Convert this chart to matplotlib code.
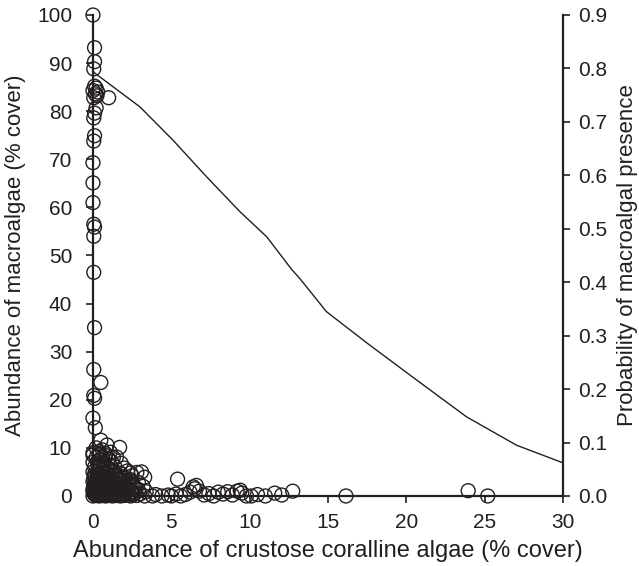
"""Macroalgae vs crustose coralline algae cover, with fitted presence probability."""

import matplotlib

matplotlib.use("Agg")
import matplotlib.pyplot as plt
from matplotlib.ticker import FormatStrFormatter

INK = "#231f20"

# column of high-macroalgae quadrats near zero CCA
high_cca = [0.0, 0.1, 0.1, 0.05, 0.1, 0.2, 0.0, 0.3, 0.15, 0.25, 0.05, 1.0,
            0.2, 0.1, 0.05, 0.1, 0.05, 0.0, 0.0, 0.0, 0.05, 0.1, 0.05, 0.05,
            0.1, 0.05, 0.5, 0.05, 0.1, 0.0, 0.15, 0.5, 0.9, 1.7, 1.3]
high_macro = [100.0, 93.2, 90.3, 88.8, 85.2, 84.8, 84.3, 84.0, 83.6, 83.2,
              82.8, 82.8, 80.7, 79.6, 78.6, 74.9, 73.8, 69.3, 65.1, 61.0,
              56.5, 55.9, 54.0, 46.5, 35.0, 26.3, 23.6, 20.9, 20.3, 16.2,
              14.2, 11.6, 10.6, 10.1, 8.0]

# dense cluster at low cover of both
cluster_cca = [
    0.0, 0.4, 0.8, 1.1, 0.2, 0.6,
    0.2, 0.6, 1.0, 1.5, 0.0, 0.4, 0.8,
    0.0, 0.3, 0.7, 1.2, 1.8, 0.5, 1.0,
    0.1, 0.5, 0.9, 1.4, 2.0, 0.3, 0.7, 1.1,
    0.0, 0.3, 0.6, 1.0, 1.3, 1.7, 2.2, 2.8, 3.1, 2.4,
    0.1, 0.4, 0.8, 1.1, 1.5, 1.9, 2.5, 3.3,
    0.0, 0.2, 0.5, 0.7, 1.0, 1.3, 1.6, 2.0, 2.4, 2.9,
    0.05, 0.3, 0.45, 0.6, 0.85, 1.1, 1.4, 1.7, 2.1, 2.6, 3.2,
    0.0, 0.15, 0.35, 0.55, 0.75, 0.95, 1.2, 1.5, 1.8, 2.2, 2.5, 2.9, 3.4,
    0.1, 0.3, 0.5, 0.7, 0.9, 1.1, 1.35, 1.6, 1.9, 2.3, 2.7, 3.0,
    0.0, 0.2, 0.4, 0.6, 0.8, 1.0, 1.25, 1.5, 1.75, 2.0, 2.4, 2.8, 3.3, 3.8,
    0.25, 0.65, 1.05, 1.45, 0.35, 0.75, 1.15, 1.9, 0.45, 0.9, 1.6, 2.3,
    0.1, 0.3, 0.5, 0.7, 0.9, 1.2, 1.4, 1.7, 2.0, 2.3, 2.6,
    0.0, 0.2, 0.4, 0.6, 0.8, 1.0, 1.3, 1.55, 1.85, 2.15, 2.45, 2.75,
    0.15, 0.35, 0.55, 0.8, 1.05, 1.3, 1.6, 1.9, 2.2, 2.5,
    0.05, 0.25, 0.45, 0.65, 0.85, 1.15, 1.45, 1.75, 2.05,
    0.1, 0.3, 0.5, 0.75, 1.0, 1.25, 1.5, 1.8,
]
cluster_macro = [
    9.0, 9.2, 8.8, 9.1, 10.0, 9.6,
    8.0, 8.2, 7.8, 8.1, 8.5, 8.6, 8.4,
    7.0, 7.2, 6.9, 7.1, 6.8, 7.5, 7.6,
    6.0, 6.2, 5.9, 6.1, 5.8, 6.5, 6.6, 6.4,
    5.0, 5.2, 4.9, 5.1, 5.0, 4.8, 5.2, 4.9, 5.0, 4.8,
    4.0, 4.2, 3.9, 4.1, 4.0, 3.8, 4.2, 3.9,
    3.0, 3.2, 2.9, 3.1, 3.0, 2.8, 3.2, 2.9, 3.1, 2.8,
    2.0, 2.2, 1.9, 2.1, 2.0, 1.8, 2.2, 1.9, 2.1, 1.8, 2.0,
    1.0, 1.2, 0.9, 1.1, 1.0, 0.8, 1.2, 0.9, 1.1, 1.0, 0.8, 1.2, 0.9,
    0.5, 0.6, 0.4, 0.5, 0.6, 0.4, 0.5, 0.6, 0.4, 0.5, 0.6, 0.4,
    0.0, 0.1, 0.0, 0.1, 0.0, 0.1, 0.0, 0.1, 0.0, 0.1, 0.0, 0.1, 0.0, 0.0,
    1.5, 1.6, 1.4, 1.5, 2.5, 2.6, 2.4, 2.5, 3.5, 3.6, 3.4, 3.5,
    0.3, 0.2, 0.3, 0.2, 0.3, 0.2, 0.3, 0.2, 0.3, 0.2, 0.3,
    1.4, 1.3, 1.5, 1.4, 1.3, 1.5, 1.4, 1.3, 1.5, 1.4, 1.3, 1.5,
    2.5, 2.4, 2.6, 2.5, 2.4, 2.6, 2.5, 2.4, 2.6, 2.5,
    3.6, 3.5, 3.7, 3.6, 3.5, 3.7, 3.6, 3.5, 3.7,
    4.5, 4.6, 4.4, 4.5, 4.6, 4.4, 4.5, 4.6,
]

# tail of quadrats with more CCA and little macroalgae
tail_cca = [4.0, 4.4, 4.8, 5.0, 5.3, 5.4, 5.6, 5.9, 6.2, 6.4, 6.5, 6.6, 6.8,
            7.1, 7.4, 7.7, 8.0, 8.3, 8.6, 8.9, 9.2, 9.4, 9.5, 9.8, 10.1,
            10.5, 11.0, 11.6, 12.05, 12.75, 16.15, 23.95, 25.2]
tail_macro = [0.3, 0.0, 0.2, 0.0, 0.4, 3.5, 0.0, 0.3, 0.8, 1.9, 1.5, 2.2, 1.0,
              0.2, 0.5, 0.0, 0.8, 0.4, 0.9, 0.2, 1.0, 1.2, 0.6, 0.0, 0.0,
              0.3, 0.0, 0.6, 0.2, 1.0, 0.0, 1.1, 0.0]

# fitted probability of macroalgal presence
fit_cca = [0.0, 0.13, 3.0, 5.1, 7.26, 9.38, 11.09, 12.68, 13.2, 14.9, 17.5,
           20.66, 23.85, 27.04, 30.0]
fit_prob = [0.795, 0.791, 0.728, 0.666, 0.597, 0.532, 0.485, 0.424, 0.407,
            0.345, 0.286, 0.217, 0.148, 0.095, 0.062]

plt.rcParams["font.family"] = ["Liberation Sans", "DejaVu Sans"]
plt.rcParams["text.color"] = INK
plt.rcParams["axes.labelcolor"] = INK
plt.rcParams["xtick.color"] = INK
plt.rcParams["ytick.color"] = INK

fig = plt.figure(figsize=(6.39, 5.66), dpi=100)
ax = fig.add_axes([0.1455, 0.1237, 0.7355, 0.8498])

for xs, ys in ((high_cca, high_macro), (cluster_cca, cluster_macro), (tail_cca, tail_macro)):
    ax.scatter(xs, ys, s=100, facecolors="none", edgecolors=INK, linewidths=1.0,
               clip_on=False, zorder=3)

ax.set_xlim(0, 30)
ax.set_ylim(0, 100)
ax.set_xticks(range(0, 31, 5))
ax.set_yticks(range(0, 101, 10))
ax.spines["top"].set_visible(False)
ax.spines["right"].set_visible(False)
for side in ("left", "bottom"):
    ax.spines[side].set_linewidth(1.6)
    ax.spines[side].set_color(INK)
    ax.spines[side].set_zorder(2)
ax.tick_params(direction="out", length=5, width=1.2, labelsize=15)
ax.tick_params(axis="x", pad=7)
ax.tick_params(axis="y", pad=10)
ax.set_xlabel("Abundance of crustose coralline algae (% cover)", fontsize=17, labelpad=6)
ax.set_ylabel("Abundance of macroalgae (% cover)", fontsize=16, labelpad=8)

ax2 = ax.twinx()
ax2.plot(fit_cca, fit_prob, color=INK, linewidth=1.0, zorder=4)
ax2.set_ylim(0, 0.9)
ax2.set_yticks([i / 10 for i in range(10)])
ax2.yaxis.set_major_formatter(FormatStrFormatter("%.1f"))
for side in ("left", "top", "bottom"):
    ax2.spines[side].set_visible(False)
ax2.spines["right"].set_linewidth(1.6)
ax2.spines["right"].set_color(INK)
ax2.tick_params(direction="out", length=5, width=1.2, labelsize=15, pad=6)
ax2.set_ylabel("Probability of macroalgal presence", fontsize=16, labelpad=7)

fig.savefig("out.png", dpi=100)
